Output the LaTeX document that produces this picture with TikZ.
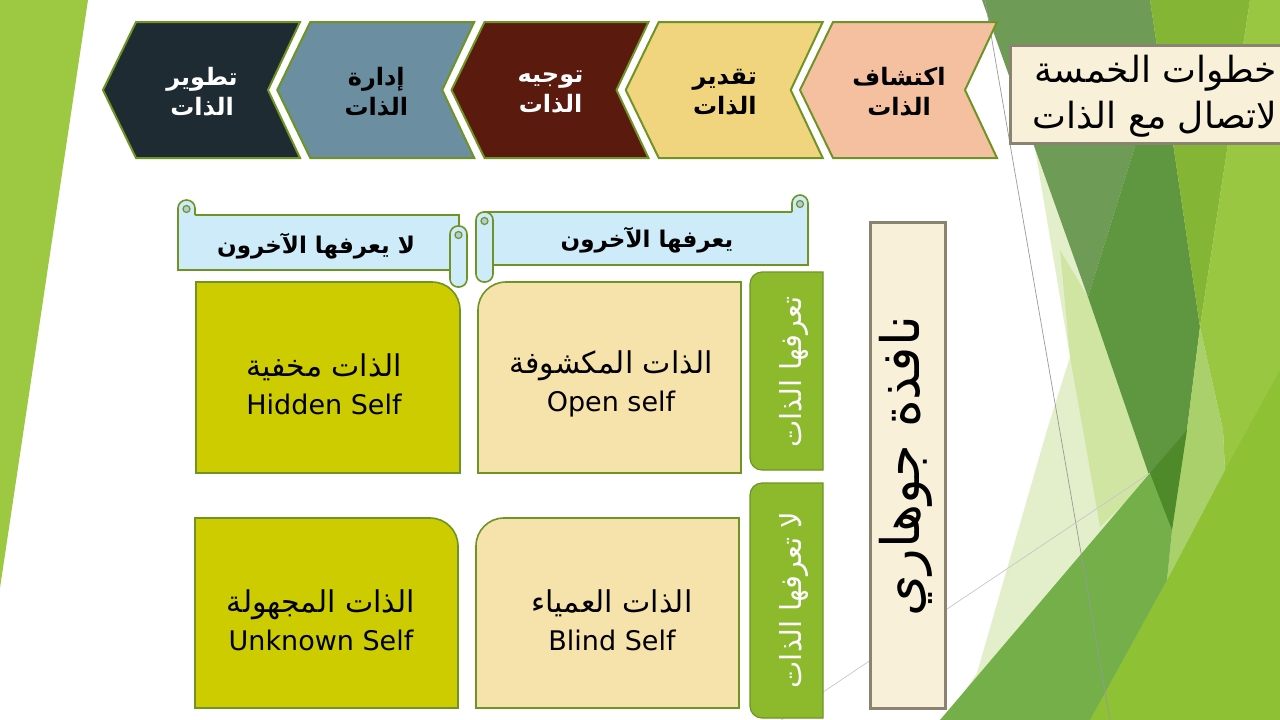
\documentclass[tikz,border=0pt]{standalone}
\usepackage{fontspec}
\setmainfont{DejaVu Sans}
\newfontfamily\ar[Script=Arabic]{DejaVu Sans}
\TeXXeTstate=1
\definecolor{leafgreen}{HTML}{9DC842}
\definecolor{bordergreen}{HTML}{6F9424}
\definecolor{chevdark}{HTML}{1F2B33}
\definecolor{chevblue}{HTML}{6B8FA0}
\definecolor{chevmaroon}{HTML}{5A1A0E}
\definecolor{chevyellow}{HTML}{F0D47E}
\definecolor{chevpink}{HTML}{F4C0A0}
\definecolor{scrollblue}{HTML}{CDEBF8}
\definecolor{olivebox}{HTML}{CCCC00}
\definecolor{creambox}{HTML}{F6E3AB}
\definecolor{labelgreen}{HTML}{8CBA2C}
\definecolor{titlecream}{HTML}{F8F0D8}
\definecolor{titleedge}{HTML}{8A8372}
\definecolor{paleA}{HTML}{E3EFCA}
\definecolor{paleB}{HTML}{D1E5A3}
\definecolor{darkA}{HTML}{6E9B55}
\definecolor{darkB}{HTML}{5F9640}
\definecolor{medtop}{HTML}{84B535}
\definecolor{limeup}{HTML}{9AC742}
\definecolor{limelow}{HTML}{8FC135}
\definecolor{palelime}{HTML}{A9D06B}
\definecolor{medM}{HTML}{74AF4A}
\definecolor{darkest}{HTML}{4F8A2A}
\tikzset{
  chevbox/.style={draw=bordergreen, line width=2pt, line join=miter},
  chevtext/.style={font=\ar\bfseries\fontsize{24}{30}\selectfont, align=center, inner sep=0pt},
  scrollbox/.style={draw=bordergreen, line width=1.6pt, fill=scrollblue},
  scrolltext/.style={font=\ar\bfseries\fontsize{23}{26}\selectfont, inner sep=0pt},
  quadbox/.style={draw=bordergreen, line width=1.6pt},
  quadtext/.style={font=\fontsize{27}{38}\selectfont, align=center, inner sep=0pt},
  quadar/.style={font=\ar\fontsize{30}{38}\selectfont, inner sep=0pt},
  sidebox/.style={draw=bordergreen, line width=1.2pt, fill=labelgreen},
  sidetext/.style={font=\ar\fontsize{29}{32}\selectfont, text=white, rotate=90, inner sep=0pt},
  titlebox/.style={draw=titleedge, line width=3pt, fill=titlecream},
  titletext/.style={font=\ar\fontsize{36}{40}\selectfont, anchor=east, inner sep=0pt},
  curl/.style={draw=bordergreen, line width=1.2pt, fill=scrollblue!70!gray}
}
\begin{document}
\begin{tikzpicture}[x=1pt,y=-1pt]
\useasboundingbox (0,0) rectangle (1280,720);
\clip (0,0) rectangle (1280,720);
% ---------- background facets ----------
\fill[leafgreen] (0,0) -- (88,0) -- (0,588) -- cycle;
\fill[paleA] (1010,0) -- (1070,357) -- (1047,430) -- (977,673) -- (945,720) -- (1280,720) -- (1280,0) -- cycle;
\fill[paleB] (1060,250) -- (1088,297) -- (1150,478) -- (1100,527) -- (1083,430) -- (1070,357) -- cycle;
\fill[darkA] (982,0) -- (1150,0) -- (1160,66) -- (1088,297) -- cycle;
\fill[darkB] (1088,297) -- (1160,66) -- (1173,143) -- (1200,327) -- (1187,430) -- (1172,530) -- (1150,478) -- cycle;
\fill[medtop] (1150,0) -- (1250,0) -- (1200,327) -- (1173,143) -- (1160,66) -- cycle;
\fill[limeup] (1250,0) -- (1280,0) -- (1280,720) -- (1090,720) -- (1167,580) -- (1225,470) -- (1223,430) -- (1200,327) -- cycle;
\fill[limelow] (1090,720) -- (1167,580) -- (1225,470) -- (1280,370) -- (1280,720) -- cycle;
\fill[palelime] (1200,327) -- (1223,430) -- (1225,470) -- (1167,580) -- (1172,530) -- (1187,430) -- cycle;
\fill[medM] (940,720) -- (1150,473) -- (1172,530) -- (1167,580) -- (1090,720) -- cycle;
\fill[darkest] (1150,473) -- (1187,430) -- (1172,530) -- cycle;
\coordinate (ga) at (985,0); \coordinate (gb) at (1110,720);
\coordinate (gc) at (750,741); \coordinate (gd) at (1150,473);
\draw[black!40, line width=0.7pt] (ga) -- (gb);
\draw[black!22, line width=0.7pt] (gc) -- (gd);
% ---------- chevrons ----------
\foreach \t/\col/\tc/\wa/\wb [count=\i] in {103/chevdark/white/تطوير/الذات, 277.25/chevblue/black/إدارة/الذات, 451.5/chevmaroon/white/توجيه/الذات, 625.75/chevyellow/black/تقدير/الذات, 800/chevpink/black/اكتشاف/الذات}{
  \draw[chevbox, fill=\col] (\t,90) -- (\t+33,22) -- (\t+197,22) -- (\t+165,90) -- (\t+197,158) -- (\t+33,158) -- cycle;
  \node[chevtext, text=\tc] (chev\i) at (\t+99,92) {\beginR \wa\endR\\\beginR \wb\endR};
}
% ---------- title box top right ----------
\draw[titlebox] (1010,45) rectangle (1295,143);
\node[titletext] (title1) at (1277,73) {\beginR خطوات الخمسة\endR};
\node[titletext] (title2) at (1277,119) {\beginR لاتصال مع الذات\endR};
% ---------- scrolls ----------
% right scroll
\draw[scrollbox] (484,212) rectangle (808,265);
\fill[scrollblue] (792,214) -- (792,203) .. controls (792,198.5) and (796,195) .. (800,195) .. controls (804,195) and (808,198.5) .. (808,203) -- (808,214) -- cycle;
\draw[draw=bordergreen, line width=1.6pt] (792,212) -- (792,203) .. controls (792,198.5) and (796,195) .. (800,195) .. controls (804,195) and (808,198.5) .. (808,203) -- (808,214);
\draw[curl] (800,204) circle (3.5);
\draw[scrollbox, rounded corners=8] (476,212) rectangle (493,282);
\draw[curl] (484.5,221) circle (3.5);
\node[scrolltext] (known) at (647,240) {\beginR يعرفها الآخرون\endR};
% left scroll
\draw[scrollbox] (178,215) rectangle (459,270);
\fill[scrollblue] (178,217) -- (178,208) .. controls (178,203.5) and (182,200) .. (186.5,200) .. controls (191,200) and (195,203.5) .. (195,208) -- (195,217) -- cycle;
\draw[draw=bordergreen, line width=1.6pt] (178,217) -- (178,208) .. controls (178,203.5) and (182,200) .. (186.5,200) .. controls (191,200) and (195,203.5) .. (195,208) -- (195,215);
\draw[curl] (186.5,209) circle (3.5);
\draw[scrollbox, rounded corners=8] (450,226) rectangle (467,287);
\draw[curl] (458.5,235) circle (3.5);
\node[scrolltext] (unknownothers) at (316,246) {\beginR لا يعرفها الآخرون\endR};
% ---------- quadrants ----------
\draw[quadbox, fill=olivebox] (196,473) -- (196,282) -- (432,282) .. controls (447.5,282) and (460,294.5) .. (460,310) -- (460,473) -- cycle;
\draw[quadbox, fill=creambox] (741,473) -- (741,282) -- (506,282) .. controls (490.5,282) and (478,294.5) .. (478,310) -- (478,473) -- cycle;
\draw[quadbox, fill=olivebox] (195,708) -- (195,518) -- (430,518) .. controls (445.5,518) and (458,530.5) .. (458,546) -- (458,708) -- cycle;
\draw[quadbox, fill=creambox] (739,708) -- (739,518) -- (504,518) .. controls (488.5,518) and (476,530.5) .. (476,546) -- (476,708) -- cycle;
\node[quadtext] (hidden) at (324,384) {{\ar\fontsize{30}{38}\selectfont\beginR الذات مخفية\endR}\\Hidden Self};
\node[quadtext] (open) at (611,384) {{\ar\fontsize{30}{38}\selectfont\beginR الذات المكشوفة\endR}\\Open self};
\node[quadtext] (unknown) at (321,620) {{\ar\fontsize{30}{38}\selectfont\beginR الذات المجهولة\endR}\\Unknown Self};
\node[quadtext] (blind) at (612,620) {{\ar\fontsize{30}{38}\selectfont\beginR الذات العمياء\endR}\\Blind Self};
% ---------- side labels ----------
\draw[sidebox] (823,272) -- (762,272) .. controls (755.4,272) and (750,277.4) .. (750,284) -- (750,458) .. controls (750,464.6) and (755.4,470) .. (762,470) -- (823,470) -- cycle;
\draw[sidebox] (823,483) -- (762,483) .. controls (755.4,483) and (750,488.4) .. (750,495) -- (750,706) .. controls (750,712.6) and (755.4,718) .. (762,718) -- (823,718) -- cycle;
\node[sidetext] (selfknown) at (794,372) {\beginR تعرفها الذات\endR};
\node[sidetext] (selfunknown) at (794,600) {\beginR لا تعرفها الذات\endR};
% ---------- big title ----------
\draw[titlebox] (870,222) rectangle (945,708);
\node[font=\ar\fontsize{53}{58}\selectfont, rotate=90, inner sep=0pt] (johari) at (906,466) {\beginR نافذة جوهاري\endR};
\end{tikzpicture}
\end{document}
